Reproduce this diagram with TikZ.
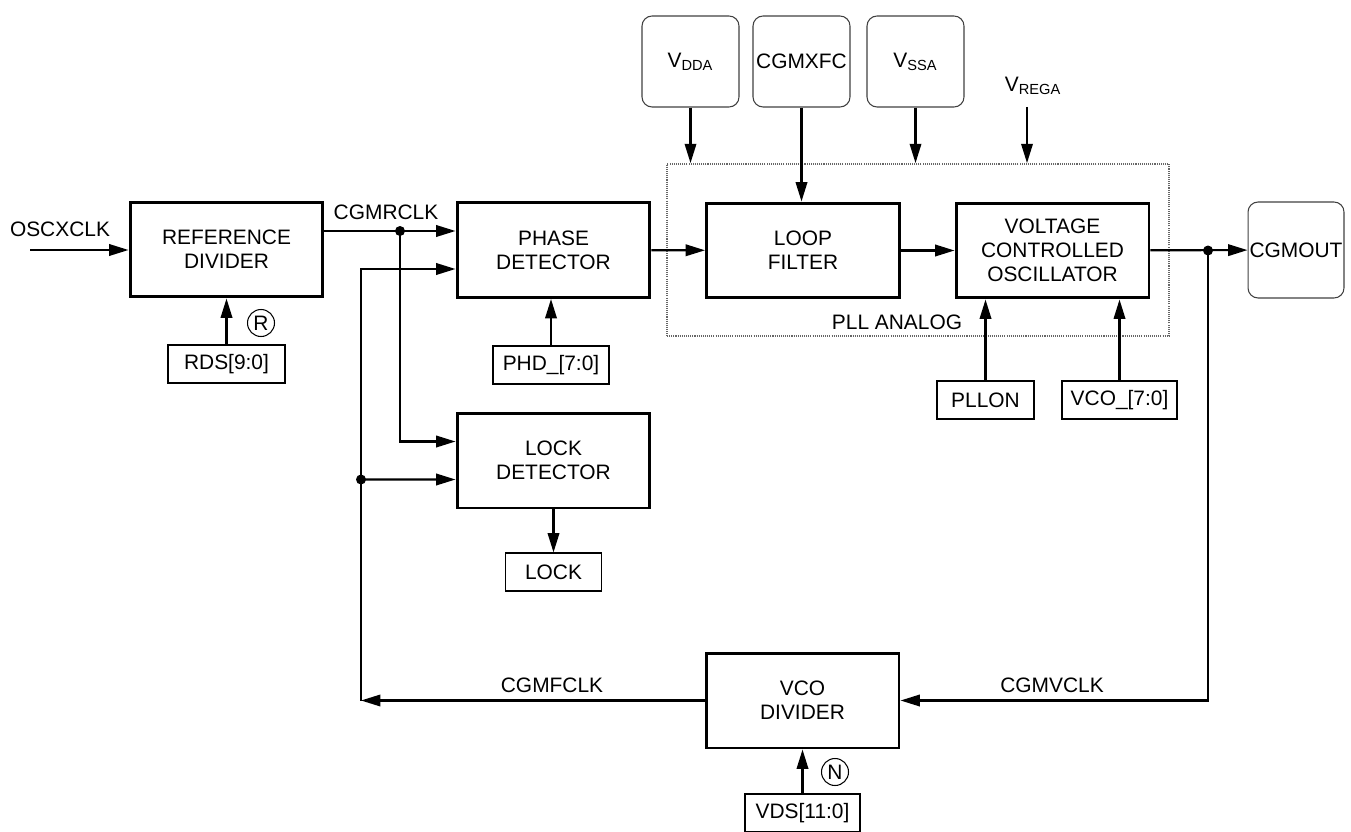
\documentclass[tikz,border=0pt]{standalone}
\usepackage{fontspec}
\setmainfont{Liberation Sans}
\usetikzlibrary{arrows.meta, positioning, calc}

\begin{document}
\begin{tikzpicture}[
  x=0.02cm, y=-0.02cm,
  font=\fontsize{11.9}{13.7}\selectfont,
  box/.style={rectangle, draw, line width=1.7pt, align=center,
              minimum width=3.86cm, minimum height=1.9cm, inner sep=0pt},
  reg/.style={rectangle, draw, line width=0.9pt, minimum height=0.76cm, inner sep=0pt},
  pin/.style={rectangle, rounded corners=0.2cm, draw=black!75, line width=0.6pt,
              minimum width=1.94cm, minimum height=1.82cm, inner sep=0pt},
  sel/.style={circle, draw, line width=0.6pt, minimum size=0.54cm, inner sep=0pt},
  arr/.style={-{Triangle[length=11pt, width=6.5pt]}, line width=1.2pt},
  wire/.style={line width=1.2pt}
]
\useasboundingbox (0,0) rectangle (1351,831);

% analog part of the loop
\node[draw=black!60, line width=1pt, dash pattern=on 0.6pt off 0.6pt,
      minimum width=10.04cm, minimum height=3.44cm] (pll) at (918,250) {};
\node (pllname) at (897,322) {PLL ANALOG};

% main blocks
\node[box] (refdiv)  at (226.5,249.5) {REFERENCE\\DIVIDER};
\node[box] (phase)   at (553.5,250)   {PHASE\\DETECTOR};
\node[box] (lockdet) at (553.5,460.5) {LOCK\\DETECTOR};
\node[box] (loop)    at (803,250.5)   {LOOP\\FILTER};
\node[box] (vco)     at (1052.5,250.5) {VOLTAGE\\CONTROLLED\\OSCILLATOR};
\node[box] (vcodiv)  at (802.5,700.5) {VCO\\DIVIDER};

% pins
\node[pin] (vdda)   at (690.5,61.5) {V\textsubscript{DDA}};
\node[pin] (cgmxfc) at (801.5,61.5) {CGMXFC};
\node[pin] (vssa)   at (915.5,61.5) {V\textsubscript{SSA}};
\node[pin, minimum width=1.92cm, minimum height=1.92cm] (cgmout) at (1296,250) {CGMOUT};
\node (vrega) at (1033,86) {V\textsubscript{REGA}};
\coordinate (vregin) at (1027,107);

% registers
\node[reg, minimum width=2.34cm, below=0.92cm of refdiv] (rds) {RDS[9:0]};
\node[reg, minimum width=2.32cm, below=0.92cm of phase, xshift=-0.05cm] (phd) {PHD\_[7:0]};
\node[reg, minimum width=1.92cm, below=0.86cm of lockdet] (lock) {LOCK};
\node[reg, minimum width=1.94cm] (pllon)  at (985.5,400) {PLLON};
\node[reg, minimum width=2.3cm]  (vcoreg) at (1119.5,400) {VCO\_[7:0]};
\node[reg, minimum width=2.3cm, below=0.88cm of vcodiv] (vds) {VDS[11:0]};
\node[sel] (rsel) at (261,323) {R};
\node[sel] (nsel) at (835,772) {N};

% clock names
\node (oscxclk) at (60,229)   {OSCXCLK};
\node (cgmrclk) at (386,212)  {CGMRCLK};
\node (cgmfclk) at (552,685)  {CGMFCLK};
\node (cgmvclk) at (1052,685) {CGMVCLK};

% junctions
\coordinate (oscin) at (30,250);
\coordinate (jr) at (400,231);
\coordinate (jf) at (361,479.5);
\coordinate (jv) at (1208,250.5);

\draw[arr] (oscin) -- (oscin -| refdiv.west);
\draw[arr] (refdiv.east |- jr) -- (phase.west |- jr);
\draw[arr] (jr) |- ([yshift=0.38cm]lockdet.west);
\draw[arr] (jf) |- ([yshift=-0.38cm]phase.west);
\draw[arr] (jf) -- ([yshift=-0.38cm]lockdet.west);
\draw[arr] (vcodiv.west) -- (jf |- vcodiv.west);
\draw[wire] (jf |- vcodiv.west) -- (jf);
\draw[arr] (phase) -- (loop);
\draw[arr] (loop) -- (vco);
\draw[arr] (vco) -- (cgmout);
\draw[arr] (jv) |- (vcodiv.east);
\fill (jr) circle (0.1cm) (jf) circle (0.1cm) (jv) circle (0.1cm);

\draw[arr] (vdda) -- (vdda |- pll.north);
\draw[arr] (cgmxfc) -- (cgmxfc |- loop.north);
\draw[arr] (vssa) -- (vssa |- pll.north);
\draw[arr] (vregin) -- (vregin |- pll.north);

\draw[arr] (rds) -- (rds |- refdiv.south);
\draw[arr] (phd) -- (phd |- phase.south);
\draw[arr] (lockdet) -- (lockdet |- lock.north);
\draw[arr] (pllon) -- (pllon |- vco.south);
\draw[arr] (vcoreg) -- (vcoreg |- vco.south);
\draw[arr] (vds) -- (vds |- vcodiv.south);
\end{tikzpicture}
\end{document}
